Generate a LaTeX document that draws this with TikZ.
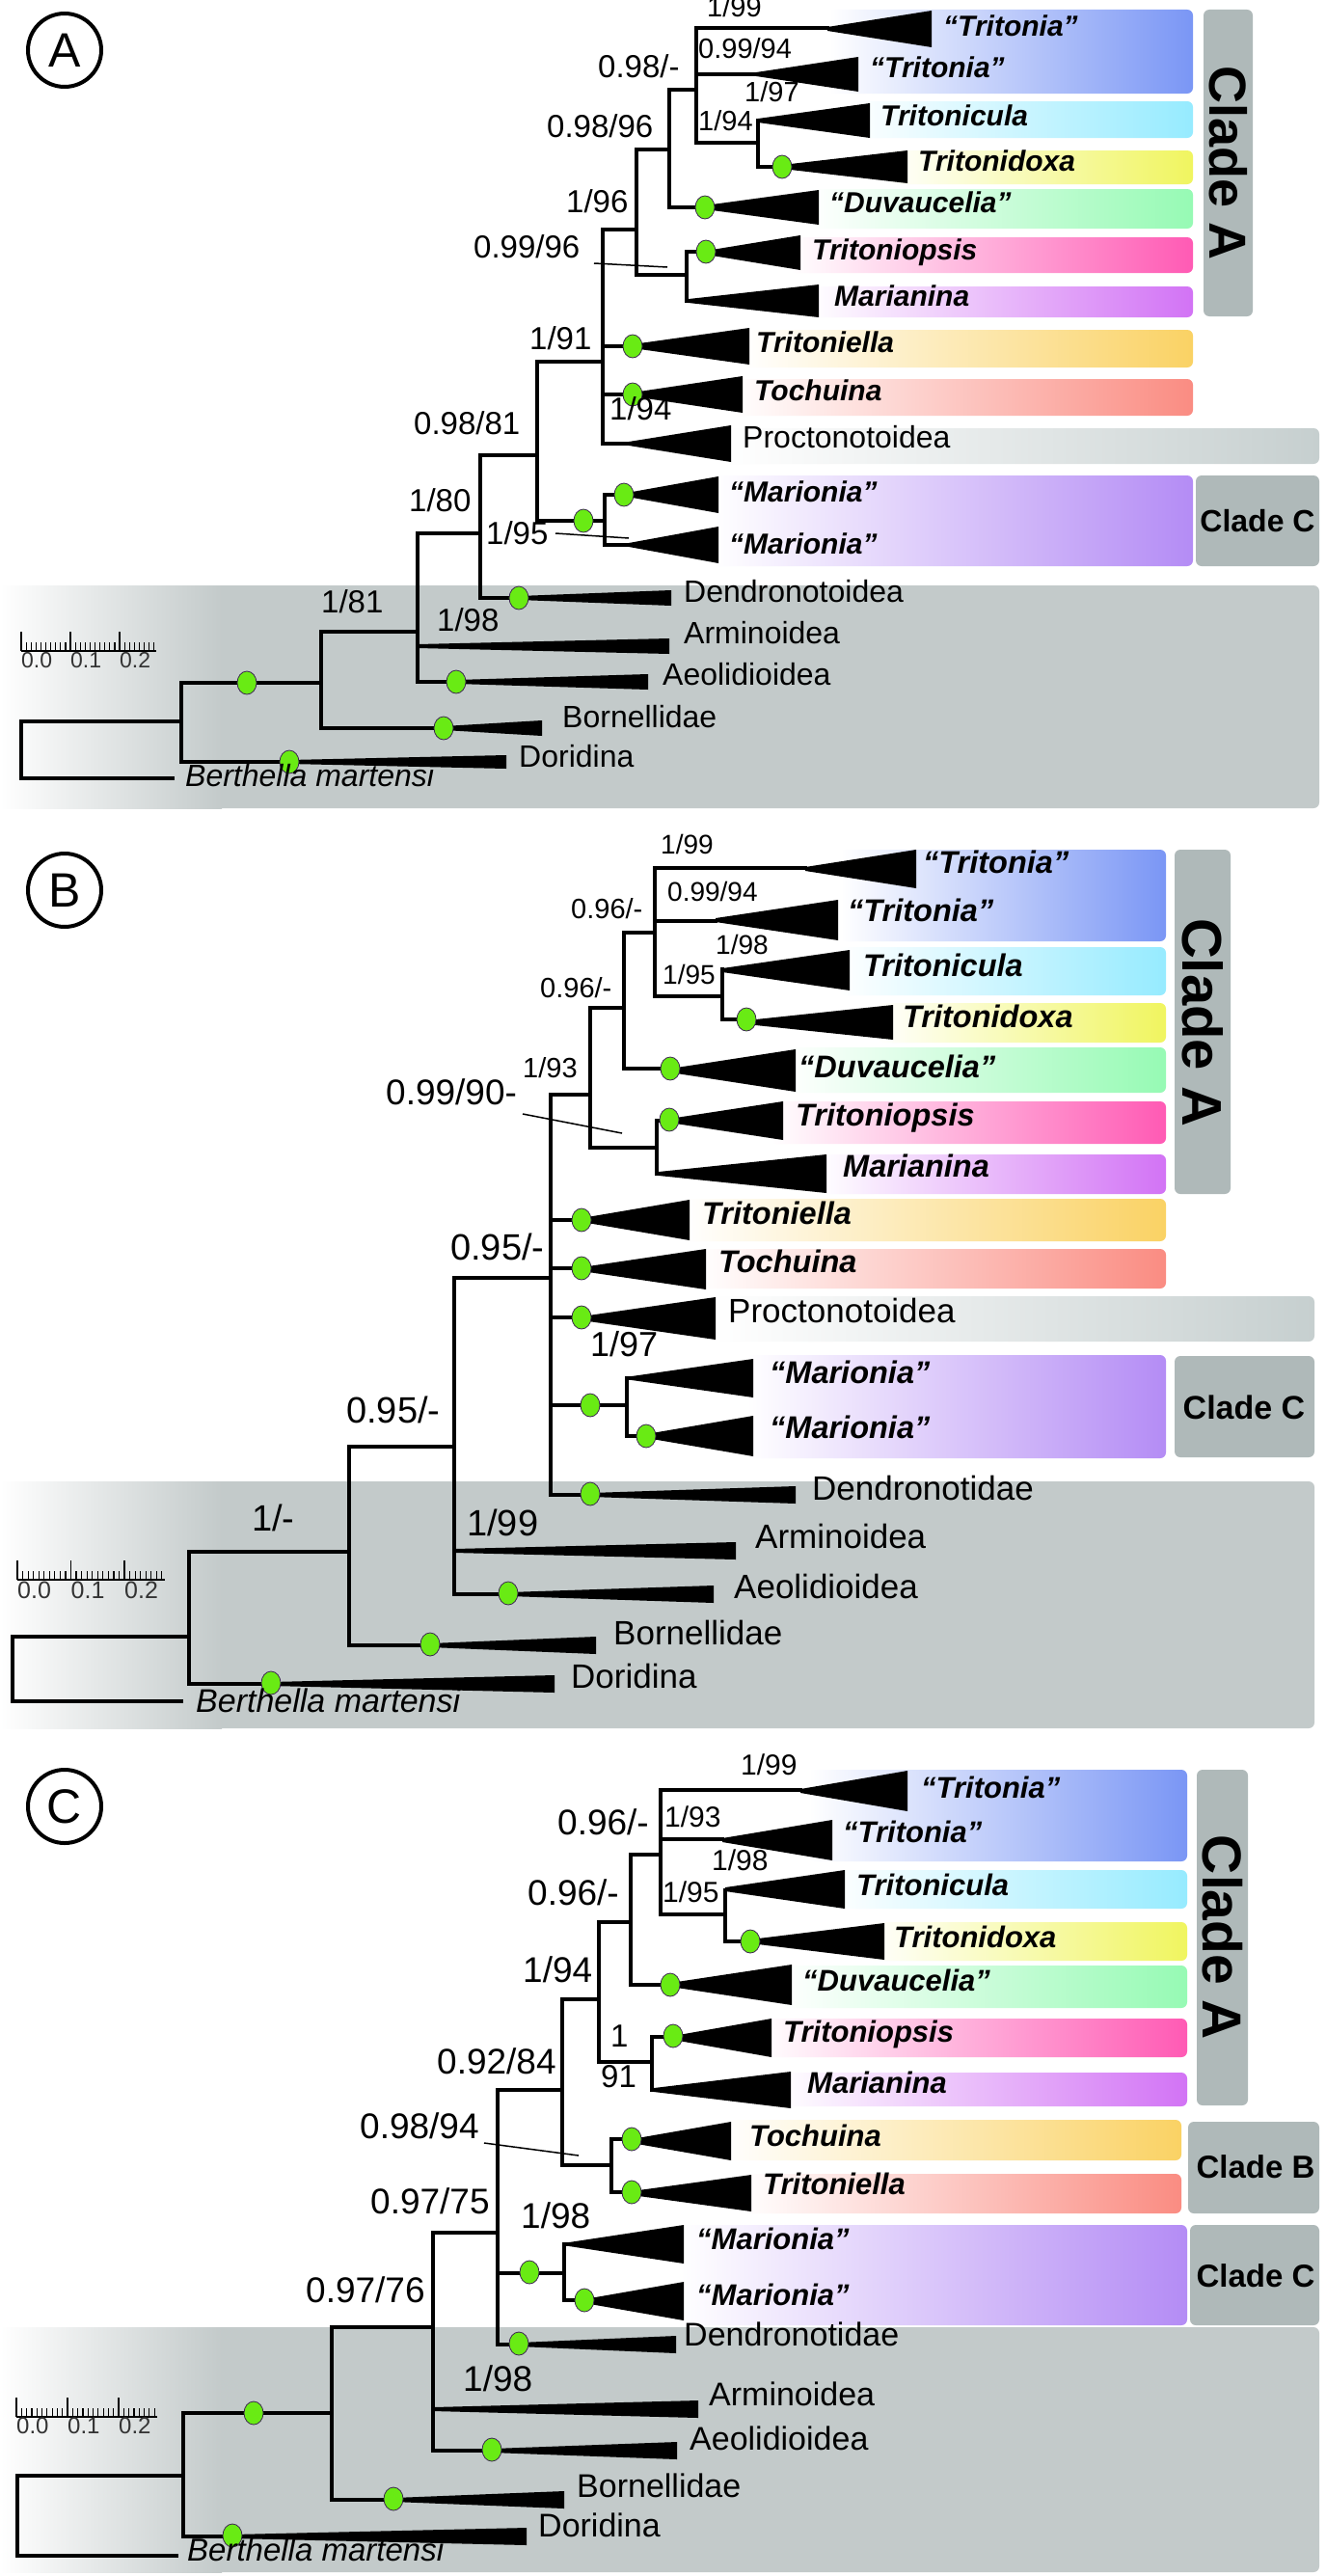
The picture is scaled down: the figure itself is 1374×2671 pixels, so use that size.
\documentclass[tikz,border=0pt]{standalone}
\usepackage{fontspec}
\setmainfont{Liberation Sans}
\definecolor{cTrit}{RGB}{122,150,245}
\definecolor{cTcul}{RGB}{150,235,255}
\definecolor{cTdox}{RGB}{240,245,95}
\definecolor{cDuv}{RGB}{150,250,180}
\definecolor{cTsis}{RGB}{255,90,180}
\definecolor{cMar}{RGB}{210,115,245}
\definecolor{cTella}{RGB}{250,210,100}
\definecolor{cToch}{RGB}{250,140,130}
\definecolor{cProc}{RGB}{198,207,207}
\definecolor{cMari}{RGB}{180,140,245}
\definecolor{cClade}{RGB}{175,185,185}
\definecolor{cGray}{RGB}{195,202,202}
\definecolor{gdot}{RGB}{105,235,20}
\definecolor{gedge}{RGB}{60,40,80}
\newcounter{nd}
\newcommand\LabR[4]{\stepcounter{nd}\node[anchor=mid west,inner sep=0pt,font=\fontsize{#3}{#3}\selectfont] (n\arabic{nd}) at (#1,#2) {#4};}
\newcommand\LabT[4]{\stepcounter{nd}\node[anchor=mid west,inner sep=0pt,font=\fontsize{#3}{#3}\selectfont\bfseries\itshape] (n\arabic{nd}) at (#1,#2) {#4};}
\newcommand\LabI[4]{\stepcounter{nd}\node[anchor=mid west,inner sep=0pt,font=\fontsize{#3}{#3}\selectfont\itshape] (n\arabic{nd}) at (#1,#2) {#4};}
\newcommand\Wdg[4]{\fill[black] (#1,#2-2) -- (#3,#2-#4) -- (#3,#2+#4) -- (#1,#2+2) -- cycle;}
\newcommand\Gdot[2]{\filldraw[gd] (#1,#2) ellipse [x radius=10pt, y radius=12pt];}
\newcommand\Cbox[5]{\shade[rounded corners=6pt,left color=white,right color=#5] (#1,#2) rectangle (#3,#4);}
\newcommand\ClBox[4]{\fill[cClade,rounded corners=6pt] (#1,#2) rectangle (#3,#4);}
\newcommand\PanelCircle[3]{\draw[line width=4pt] (#1,#2) circle [radius=38pt];\stepcounter{nd}\node[font=\fontsize{50}{50}\selectfont] (n\arabic{nd}) at (#1,#2) {#3};}
\newcommand\ScaleBar[5]{%
  \draw[line width=2pt] (#1,#2) -- ({#1+27.5*#3},#2);
  \foreach \i in {0,...,27}{\pgfmathsetmacro\hh{(mod(\i,10)==0)*11+9}\draw[line width=1.2pt] ({#1+\i*#3},#2) -- ({#1+\i*#3},{#2-\hh});}
  \node[anchor=mid west,inner sep=0pt,font=\fontsize{#5}{#5}\selectfont,text=black!80] at (#1,#4) {0.0};
  \node[anchor=mid west,inner sep=0pt,font=\fontsize{#5}{#5}\selectfont,text=black!80] at ({#1+10*#3},#4) {0.1};
  \node[anchor=mid west,inner sep=0pt,font=\fontsize{#5}{#5}\selectfont,text=black!80] at ({#1+20*#3},#4) {0.2};}
\begin{document}
\begin{tikzpicture}[x=1pt,y=-1pt,
  br/.style={line width=4pt,line join=miter,line cap=rect},
  gd/.style={fill=gdot,draw=gedge,line width=0.8pt},
  lead/.style={line width=1.5pt}]
\useasboundingbox (0,0) rectangle (1374,2671);
\fill[white] (0,0) rectangle (1374,2671);

%%%%%%%%%%%%%%%%%%%% PANEL A %%%%%%%%%%%%%%%%%%%%
\fill[cGray,rounded corners=6pt] (0,607) rectangle (1368,838);
\shade[left color=white,right color=cGray] (0,607) rectangle (230,838);
\Cbox{860}{10}{1237}{97}{cTrit}
\Cbox{880}{105}{1237}{143}{cTcul}
\Cbox{920}{156}{1237}{191}{cTdox}
\Cbox{840}{196}{1237}{237}{cDuv}
\Cbox{820}{246}{1237}{283}{cTsis}
\Cbox{840}{297}{1237}{329}{cMar}
\Cbox{770}{342}{1237}{381}{cTella}
\Cbox{760}{393}{1237}{431}{cToch}
\Cbox{750}{444}{1368}{481}{cProc}
\Cbox{740}{493}{1237}{587}{cMari}
\ClBox{1248}{10}{1299}{328}
\ClBox{1240}{493}{1368}{587}
\node[rotate=-90,font=\fontsize{54}{54}\selectfont\bfseries] (cladeAa) at (1273.5,169) {Clade A};
\node[font=\fontsize{32}{32}\selectfont\bfseries] (cladeCa) at (1304,540) {Clade C};
\PanelCircle{67}{52}{A}
\ScaleBar{22}{675}{5.1}{690}{23}
% tree
\draw[br] (179,807) -- (22,807) -- (22,748) -- (188,748);
\draw[br] (333,708) -- (188,708) -- (188,790) -- (300,790);
\draw[br] (433,655) -- (333,655) -- (333,755) -- (460,755);
\draw[br] (498,553) -- (433,553) -- (433,707) -- (473,707);
\draw[br] (433,670) -- (450,670);
\draw[br] (557,472) -- (498,472) -- (498,620) -- (538,620);
\draw[br] (625,375) -- (557,375) -- (557,540) -- (627,540);
\draw[br] (652,513) -- (627,513) -- (627,565) -- (652,565);
\draw[br] (660,238) -- (625,238) -- (625,460) -- (652,460);
\draw[br] (625,359) -- (656,359);
\draw[br] (625,409) -- (656,409);
\draw[br] (694,155) -- (660,155) -- (660,285) -- (712,285);
\draw[br] (722,93) -- (694,93) -- (694,215) -- (731,215);
\draw[br] (858,29) -- (722,29) -- (722,148) -- (786,148);
\draw[br] (722,77) -- (784,77);
\draw[br] (786,125) -- (786,173) -- (811,173);
\draw[br] (732,261) -- (712,261) -- (712,312) -- (716,312);
\Wdg{300}{790}{525}{7}
\Wdg{460}{755}{562}{8}
\Wdg{433}{670}{694}{8}
\Wdg{473}{707}{672}{8}
\Wdg{538}{620}{696}{8}
\Wdg{650}{513}{745}{19}
\Wdg{652}{565}{745}{19}
\Wdg{656}{359}{777}{19}
\Wdg{656}{409}{770}{19}
\Wdg{652}{460}{758}{19}
\Wdg{731}{215}{849}{18}
\Wdg{858}{30}{966}{19}
\Wdg{784}{77}{890}{18}
\Wdg{786}{125}{902}{18}
\Wdg{811}{173}{941}{17}
\Wdg{732}{262}{830}{18}
\Wdg{714}{312}{849}{17}
\Gdot{256}{708}\Gdot{300}{790}\Gdot{460}{755}\Gdot{473}{707}\Gdot{538}{620}
\Gdot{605}{540}\Gdot{647}{513}\Gdot{656}{359}\Gdot{656}{409}\Gdot{731}{215}
\Gdot{732}{261}\Gdot{811}{173}
% support values
\LabR{620}{78}{33}{0.98/-}
\LabR{567}{140}{33}{0.98/96}
\LabR{587}{218}{33}{1/96}
\LabR{491}{265}{33}{0.99/96}
\draw[lead] (616,273) -- (692,277);
\LabR{549}{360}{33}{1/91}
\LabR{632}{433}{33}{1/94}
\LabR{429}{448}{33}{0.98/81}
\LabR{424}{528}{33}{1/80}
\LabR{504}{562}{33}{1/95}
\draw[lead] (576,553) -- (652,558);
\LabR{333}{633}{33}{1/81}
\LabR{453}{652}{33}{1/98}
\LabR{733}{15}{29}{1/99}
\LabR{724}{58}{29}{0.99/94}
\LabR{772}{103}{29}{1/97}
\LabR{724}{133}{29}{1/94}
% taxa
\LabT{978}{35}{30}{“Tritonia”}
\LabT{902}{78}{30}{“Tritonia”}
\LabT{913}{128}{30}{Tritonicula}
\LabT{952}{175}{30}{Tritonidoxa}
\LabT{860}{218}{30}{“Duvaucelia”}
\LabT{842}{267}{30}{Tritoniopsis}
\LabT{865}{315}{30}{Marianina}
\LabT{784}{363}{30}{Tritoniella}
\LabT{782}{413}{30}{Tochuina}
\LabR{770}{462}{32}{Proctonotoidea}
\LabT{756}{518}{30}{“Marionia”}
\LabT{756}{572}{30}{“Marionia”}
\LabR{709}{622}{32}{Dendronotoidea}
\LabR{709}{665}{32}{Arminoidea}
\LabR{687}{708}{32}{Aeolidioidea}
\LabR{583}{752}{32}{Bornellidae}
\LabR{538}{793}{32}{Doridina}
\LabI{192}{813}{32}{Berthella martensi}

%%%%%%%%%%%%%%%%%%%% PANEL B %%%%%%%%%%%%%%%%%%%%
\fill[cGray,rounded corners=6pt] (0,1536) rectangle (1363,1792);
\shade[left color=white,right color=cGray] (0,1536) rectangle (230,1792);
\Cbox{872}{881}{1209}{976}{cTrit}
\Cbox{870}{982}{1209}{1032}{cTcul}
\Cbox{910}{1040}{1209}{1081}{cTdox}
\Cbox{815}{1086}{1209}{1133}{cDuv}
\Cbox{800}{1142}{1209}{1186}{cTsis}
\Cbox{850}{1197}{1209}{1238}{cMar}
\Cbox{710}{1243}{1209}{1287}{cTella}
\Cbox{725}{1295}{1209}{1336}{cToch}
\Cbox{740}{1344}{1363}{1391}{cProc}
\Cbox{775}{1405}{1209}{1512}{cMari}
\ClBox{1218}{881}{1276}{1238}
\ClBox{1218}{1406}{1363}{1511}
\node[rotate=-90,font=\fontsize{58}{58}\selectfont\bfseries] (cladeAb) at (1247,1060) {Clade A};
\node[font=\fontsize{34}{34}\selectfont\bfseries] (cladeCb) at (1290,1459) {Clade C};
\PanelCircle{67}{923}{B}
\ScaleBar{18}{1638}{5.55}{1655}{25}
\draw[br] (188,1764) -- (13,1764) -- (13,1697) -- (196,1697);
\draw[br] (362,1609) -- (196,1609) -- (196,1746) -- (281,1746);
\draw[br] (471,1500) -- (362,1500) -- (362,1706) -- (446,1706);
\draw[br] (571,1325) -- (471,1325) -- (471,1653) -- (527,1653);
\draw[br] (612,1135) -- (571,1135) -- (571,1550) -- (612,1550);
\draw[br] (571,1265) -- (603,1265);
\draw[br] (571,1315) -- (603,1315);
\draw[br] (571,1366) -- (603,1366);
\draw[br] (571,1457) -- (650,1457);
\draw[br] (655,1429) -- (650,1429) -- (650,1489) -- (670,1489);
\draw[br] (647,1045) -- (612,1045) -- (612,1190) -- (681,1190);
\draw[br] (694,1162) -- (681,1162) -- (681,1217) -- (683,1217);
\draw[br] (679,967) -- (647,967) -- (647,1108) -- (695,1108);
\draw[br] (835,900) -- (679,900) -- (679,1033) -- (749,1033);
\draw[br] (679,955) -- (742,955);
\draw[br] (749,1005) -- (749,1057) -- (774,1057);
\Wdg{281}{1746}{575}{9}
\Wdg{446}{1706}{618}{9}
\Wdg{471}{1608}{763}{9}
\Wdg{527}{1653}{740}{9}
\Wdg{603}{1265}{715}{21}
\Wdg{603}{1316}{732}{21}
\Wdg{603}{1367}{742}{22}
\Wdg{612}{1550}{825}{9}
\Wdg{655}{1429}{781}{20}
\Wdg{670}{1489}{781}{21}
\Wdg{694}{1162}{812}{20}
\Wdg{683}{1217}{857}{20}
\Wdg{695}{1110}{825}{22}
\Wdg{835}{901}{950}{20}
\Wdg{742}{954}{869}{21}
\Wdg{749}{1006}{881}{21}
\Wdg{774}{1060}{926}{18}
\Gdot{281}{1745}\Gdot{446}{1705}\Gdot{527}{1652}\Gdot{603}{1265}\Gdot{603}{1315}
\Gdot{603}{1366}\Gdot{612}{1457}\Gdot{612}{1549}\Gdot{670}{1489}\Gdot{694}{1161}
\Gdot{695}{1108}\Gdot{774}{1057}
\LabR{685}{883}{28}{1/99}
\LabR{692}{932}{28}{0.99/94}
\LabR{742}{987}{28}{1/98}
\LabR{687}{1018}{28}{1/95}
\LabR{592}{950}{29}{0.96/-}
\LabR{560}{1032}{29}{0.96/-}
\LabR{542}{1115}{29}{1/93}
\LabR{400}{1143}{37}{0.99/90-}
\draw[lead] (542,1155) -- (645,1175);
\LabR{467}{1304}{38}{0.95/-}
\LabR{359}{1473}{38}{0.95/-}
\LabR{261}{1585}{38}{1/-}
\LabR{484}{1590}{38}{1/99}
\LabR{612}{1404}{36}{1/97}
\LabT{957}{903}{32.5}{“Tritonia”}
\LabT{879}{953}{32.5}{“Tritonia”}
\LabT{895}{1010}{32.5}{Tritonicula}
\LabT{936}{1063}{32.5}{Tritonidoxa}
\LabT{828}{1115}{32.5}{“Duvaucelia”}
\LabT{825}{1165}{32.5}{Tritoniopsis}
\LabT{874}{1218}{32.5}{Marianina}
\LabT{728}{1267}{32.5}{Tritoniella}
\LabT{745}{1317}{32.5}{Tochuina}
\LabR{755}{1369}{35}{Proctonotoidea}
\LabT{798}{1432}{32.5}{“Marionia”}
\LabT{798}{1489}{32.5}{“Marionia”}
\LabR{842}{1553}{35}{Dendronotidae}
\LabR{783}{1603}{35}{Arminoidea}
\LabR{761}{1655}{35}{Aeolidioidea}
\LabR{636}{1703}{35}{Bornellidae}
\LabR{592}{1748}{35}{Doridina}
\LabI{203}{1773}{34}{Berthella martensi}

%%%%%%%%%%%%%%%%%%%% PANEL C %%%%%%%%%%%%%%%%%%%%
\fill[cGray,rounded corners=6pt] (0,2413) rectangle (1368,2667);
\shade[left color=white,right color=cGray] (0,2413) rectangle (230,2667);
\Cbox{839}{1835}{1231}{1930}{cTrit}
\Cbox{860}{1939}{1231}{1979}{cTcul}
\Cbox{900}{1993}{1231}{2033}{cTdox}
\Cbox{810}{2038}{1231}{2082}{cDuv}
\Cbox{790}{2093}{1231}{2133}{cTsis}
\Cbox{810}{2149}{1231}{2184}{cMar}
\Cbox{750}{2198}{1225}{2240}{cTella}
\Cbox{770}{2254}{1225}{2295}{cToch}
\Cbox{705}{2307}{1231}{2411}{cMari}
\ClBox{1241}{1835}{1294}{2183}
\ClBox{1232}{2200}{1368}{2295}
\ClBox{1234}{2307}{1368}{2411}
\node[rotate=-90,font=\fontsize{57}{57}\selectfont\bfseries] (cladeAc) at (1267.5,2009) {Clade A};
\node[font=\fontsize{33}{33}\selectfont\bfseries] (cladeBc) at (1302,2247) {Clade B};
\node[font=\fontsize{33}{33}\selectfont\bfseries] (cladeCc) at (1302,2360) {Clade C};
\PanelCircle{67}{1873}{C}
\ScaleBar{17}{2506}{5.3}{2521}{24}
\draw[br] (183,2650) -- (18,2650) -- (18,2567) -- (190,2567);
\draw[br] (344,2502) -- (190,2502) -- (190,2630) -- (241,2630);
\draw[br] (449,2413) -- (344,2413) -- (344,2592) -- (408,2592);
\draw[br] (516,2315) -- (449,2315) -- (449,2541) -- (510,2541);
\draw[br] (583,2167) -- (516,2167) -- (516,2431) -- (538,2431);
\draw[br] (516,2357) -- (585,2357);
\draw[br] (590,2327) -- (585,2327) -- (585,2385) -- (606,2385);
\draw[br] (621,2073) -- (583,2073) -- (583,2245) -- (634,2245);
\draw[br] (655,2218) -- (634,2218) -- (634,2273) -- (655,2273);
\draw[br] (654,1993) -- (621,1993) -- (621,2138) -- (676,2138);
\draw[br] (698,2112) -- (676,2112) -- (676,2167) -- (678,2167);
\draw[br] (685,1923) -- (654,1923) -- (654,2058) -- (695,2058);
\draw[br] (830,1856) -- (685,1856) -- (685,1985) -- (752,1985);
\draw[br] (685,1907) -- (749,1907);
\draw[br] (752,1960) -- (752,2013) -- (778,2013);
\Wdg{241}{2630}{546}{9}
\Wdg{408}{2592}{585}{9}
\Wdg{449}{2498}{724}{9}
\Wdg{510}{2541}{702}{9}
\Wdg{538}{2431}{701}{9}
\Wdg{590}{2327}{709}{20}
\Wdg{606}{2386}{709}{20}
\Wdg{655}{2220}{758}{20}
\Wdg{655}{2274}{779}{19}
\Wdg{698}{2113}{800}{20}
\Wdg{678}{2167}{820}{19}
\Wdg{695}{2058}{821}{21}
\Wdg{830}{1857}{941}{21}
\Wdg{749}{1908}{863}{21}
\Wdg{752}{1959}{876}{20}
\Wdg{778}{2013}{917}{19}
\Gdot{263}{2502}\Gdot{241}{2629}\Gdot{408}{2591}\Gdot{510}{2540}\Gdot{538}{2430}
\Gdot{549}{2356}\Gdot{606}{2385}\Gdot{655}{2218}\Gdot{655}{2273}\Gdot{698}{2111}
\Gdot{695}{2058}\Gdot{778}{2013}
\LabR{768}{1838}{30}{1/99}
\LabR{689}{1892}{30}{1/93}
\LabR{738}{1937}{30}{1/98}
\LabR{687}{1970}{30}{1/95}
\LabR{578}{1900}{37}{0.96/-}
\LabR{547}{1973}{37}{0.96/-}
\LabR{542}{2053}{37}{1/94}
\LabR{633}{2120}{33}{1}
\LabR{623}{2162}{33}{91}
\LabR{453}{2148}{37}{0.92/84}
\LabR{373}{2215}{37}{0.98/94}
\draw[lead] (502,2222) -- (600,2235);
\LabR{384}{2293}{37}{0.97/75}
\LabR{540}{2308}{37}{1/98}
\LabR{317}{2385}{37}{0.97/76}
\LabR{480}{2477}{37}{1/98}
\LabT{955}{1862}{31}{“Tritonia”}
\LabT{874}{1908}{31}{“Tritonia”}
\LabT{888}{1963}{31}{Tritonicula}
\LabT{927}{2017}{31}{Tritonidoxa}
\LabT{832}{2062}{31}{“Duvaucelia”}
\LabT{812}{2115}{31}{Tritoniopsis}
\LabT{837}{2168}{31}{Marianina}
\LabT{777}{2223}{31}{Tochuina}
\LabT{791}{2273}{31}{Tritoniella}
\LabT{722}{2330}{31}{“Marionia”}
\LabT{722}{2388}{31}{“Marionia”}
\LabR{709}{2430}{34}{Dendronotidae}
\LabR{735}{2492}{34}{Arminoidea}
\LabR{715}{2538}{34}{Aeolidioidea}
\LabR{598}{2587}{34}{Bornellidae}
\LabR{558}{2628}{34}{Doridina}
\LabI{194}{2653}{33}{Berthella martensi}
\end{tikzpicture}
\end{document}
